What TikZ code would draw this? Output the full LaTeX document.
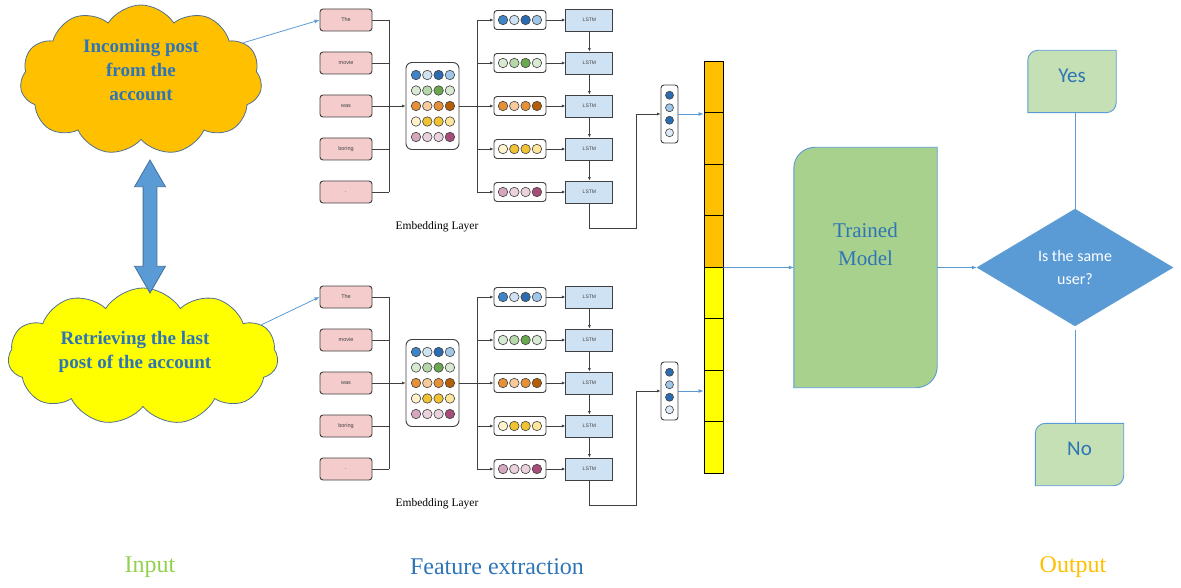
\documentclass[tikz,border=0pt]{standalone}
\usepackage{fontspec}
\setmainfont{Liberation Serif}
\setsansfont{Liberation Sans}
\newfontfamily\calib{Carlito}
\usepackage{xcolor}
\usepackage{tikz}
\usetikzlibrary{arrows.meta, positioning, shapes.geometric, shapes.symbols, shapes.arrows, backgrounds, calc}

\definecolor{post_orange}{HTML}{FFC000}
\definecolor{post_yellow}{HTML}{FFFF00}
\definecolor{cloud_edge}{HTML}{51708F}
\definecolor{txt_blue}{HTML}{2E75B6}
\definecolor{flow_blue}{HTML}{5B9BD5}
\definecolor{flow_dark}{HTML}{41719C}
\definecolor{model_green}{HTML}{A9D18E}
\definecolor{leaf_green}{HTML}{C5E0B4}
\definecolor{word_pink}{HTML}{F4CCCC}
\definecolor{lstm_blue}{HTML}{CFE2F3}
\definecolor{wire_grey}{HTML}{404040}
\definecolor{in_green}{HTML}{92D050}
% embedding colours, row/column
\definecolor{e11}{HTML}{3D85C6}\definecolor{e12}{HTML}{CFE2F3}\definecolor{e13}{HTML}{2B6CB0}\definecolor{e14}{HTML}{9FC5E8}
\definecolor{e21}{HTML}{D9EAD3}\definecolor{e22}{HTML}{B6D7A8}\definecolor{e23}{HTML}{6AA84F}\definecolor{e24}{HTML}{D9EAD3}
\definecolor{e31}{HTML}{E69138}\definecolor{e32}{HTML}{F9CB9C}\definecolor{e33}{HTML}{E69138}\definecolor{e34}{HTML}{B45F06}
\definecolor{e41}{HTML}{FFF2CC}\definecolor{e42}{HTML}{F1C232}\definecolor{e43}{HTML}{F1C232}\definecolor{e44}{HTML}{FFE599}
\definecolor{e51}{HTML}{D5A6BD}\definecolor{e52}{HTML}{EAD1DC}\definecolor{e53}{HTML}{EAD1DC}\definecolor{e54}{HTML}{A64D79}
\definecolor{o1}{HTML}{2B6CB0}\definecolor{o2}{HTML}{9FC5E8}\definecolor{o3}{HTML}{2B6CB0}\definecolor{o4}{HTML}{DEEAF6}

% box with two rounded corners (top left, bottom right) behind node #1
\newcommand{\leafbox}[3]{%
  \begin{pgfonlayer}{background}
  \draw[draw=flow_blue, fill=#2, line width=0.9pt]
    ([yshift=-#3]#1.north west) arc[start angle=180, end angle=90, radius=#3]
    -- (#1.north east) -- ([yshift=#3]#1.south east)
    arc[start angle=0, end angle=-90, radius=#3] -- (#1.south west) -- cycle;
  \end{pgfonlayer}}

\begin{document}
\begin{tikzpicture}[x=1pt, y=-1pt,
    postcloud/.style={cloud, cloud puffs=11, cloud puff arc=115, cloud ignores aspect,
      draw=cloud_edge, line width=0.8pt, inner sep=0pt},
    posttext/.style={align=center, text=txt_blue,
      font=\bfseries\fontsize{19}{24}\selectfont},
    swaparrow/.style={double arrow, rotate=90, fill=flow_blue, draw=flow_dark,
      line width=0.8pt, minimum height=133, inner xsep=0pt, inner ysep=6.5pt,
      double arrow head extend=8.5pt, double arrow tip angle=60},
    wordbox/.style={draw=wire_grey, fill=word_pink, rounded corners=3pt,
      line width=0.9pt, minimum width=52, minimum height=22, text=wire_grey,
      font=\sffamily\fontsize{5.5}{6}\selectfont},
    embbox/.style={draw=wire_grey, fill=white, rounded corners=6pt,
      line width=0.9pt, minimum width=53, minimum height=87},
    vecbox/.style={draw=wire_grey, fill=white, rounded corners=3pt,
      line width=0.9pt, minimum width=52, minimum height=19},
    outbox/.style={draw=wire_grey, fill=white, rounded corners=3pt,
      line width=0.9pt, minimum width=17, minimum height=58},
    lstmbox/.style={draw=wire_grey, fill=lstm_blue, line width=0.9pt,
      minimum width=47, minimum height=22, text=wire_grey,
      font=\sffamily\fontsize{5}{6}\selectfont},
    dot/.style={circle, draw=wire_grey, line width=0.6pt, minimum size=9.5, inner sep=0pt},
    odot/.style={circle, draw=wire_grey, line width=0.6pt, minimum size=8, inner sep=0pt},
    cell/.style={draw=black, line width=0.9pt, minimum width=19, minimum height=51.5, inner sep=0pt},
    line/.style={draw=wire_grey, line width=0.9pt},
    wire/.style={line, -{Latex[length=3.5pt, width=3pt]}},
    flow/.style={draw=flow_blue, line width=0.8pt, -{Latex[length=5pt, width=4pt]}},
    leaf/.style={minimum width=88, minimum height=62, text depth=12pt, text=txt_blue,
      font=\calib\fontsize{21}{22}\selectfont},
    decision/.style={diamond, aspect=1.68, fill=flow_blue, draw=flow_blue,
      minimum width=196, minimum height=117, inner sep=0pt, text=white,
      align=center, font=\calib\fontsize{16}{23}\selectfont},
    caption/.style={font=\fontsize{24}{26}\selectfont}]
  \path[use as bounding box] (0,0) rectangle (1181,588);

  % input
  \node[postcloud, fill=post_orange, minimum width=242, minimum height=150]
       (incoming) at (141,80) {};
  \node[posttext] (incomingtxt) at (141,70) {Incoming post\\from the\\account};
  \node[postcloud, fill=post_yellow, minimum width=270, minimum height=137]
       (retrieve) at (143,356.5) {};
  \node[posttext] (retrievetxt) at (135,352) {Retrieving the last\\post of the account};
  \node[swaparrow] (swap) at (150,226.5) {};

  % concatenated vector
  \foreach \k in {1,...,4}
    \node[cell, fill=post_orange] (cat\k) at (713.5,{61+51.5*(\k-0.5)}) {};
  \foreach \k in {5,...,8}
    \node[cell, fill=post_yellow] (cat\k) at (713.5,{61+51.5*(\k-0.5)}) {};

  % two embedding + LSTM branches
  \foreach \blk/\dy in {a/0, b/277}{
    \foreach \w [count=\i] in {The,movie,was,boring,.}{
      \node[wordbox] (\blk w\i) at (346,{20+43*(\i-1)+\dy}) {\w};
      \node[vecbox] (\blk v\i) at (520,{20+43*(\i-1)+\dy}) {};
      \node[lstmbox, right=19pt of \blk v\i] (\blk l\i) {LSTM};
      \draw[wire] (\blk v\i) -- (\blk l\i);
    }
    \node[embbox] (\blk mat) at (432.5,{106+\dy}) {};
    \foreach \r in {1,...,5}
      \foreach \c in {1,...,4}{
        \node[dot, fill=e\r\c] (\blk m\r\c) at ({416+11.3*(\c-1)},{75+15.5*(\r-1)+\dy}) {};
        \node[dot, fill=e\r\c] (\blk d\r\c) at ({503+11.3*(\c-1)},{20+43*(\r-1)+\dy}) {};
      }
    \coordinate (\blk busl) at (389,{106+\dy});
    \coordinate (\blk busr) at (477,{106+\dy});
    \foreach \i in {1,...,5}{
      \draw[line] (\blk w\i.east) -- (\blk w\i.east -| \blk busl);
      \draw[wire] (\blk v\i.west -| \blk busr) -- (\blk v\i.west);
    }
    \draw[line] (\blk w1.east -| \blk busl) -- (\blk w5.east -| \blk busl);
    \draw[line] (\blk v1.west -| \blk busr) -- (\blk v5.west -| \blk busr);
    \draw[wire] (\blk w3.east) -- (\blk mat.west);
    \draw[line] (\blk mat.east) -- (\blk busr);
    \foreach \i [evaluate=\i as \j using int(\i+1)] in {1,...,4}
      \draw[wire] (\blk l\i) -- (\blk l\j);
    \node[outbox] (\blk out) at (669.5,{114+\dy}) {};
    \foreach \c in {1,...,4}
      \node[odot, fill=o\c] (\blk o\c) at (669.5,{114+12.5*(\c-2.5)+\dy}) {};
    \coordinate (\blk turn) at (636,{228+\dy});
    \draw[wire] (\blk l5.south) |- (\blk turn) |- (\blk out.west);
    \draw[flow] (\blk out.east) -- (\blk out.east -| cat1.west);
    \node[font=\fontsize{11.5}{12}\selectfont] (\blk lab) at (437,{227+\dy}) {Embedding Layer};
  }
  \draw[flow] (incoming.20) -- (aw1.west);
  \draw[flow] (retrieve.15) -- (bw1.west);

  % model and output
  \node[minimum width=143, minimum height=240] (model) at (865.5,267.5) {};
  \leafbox{model}{model_green}{21pt}
  \node[align=center, text=txt_blue, font=\fontsize{21}{28}\selectfont]
       (modeltxt) at (865.5,244) {Trained\\Model};
  \node[decision] (dec) at (1075,267.5) {Is the same\\user?};
  \node[leaf] (yes) at (1072,81.5) {Yes};
  \leafbox{yes}{leaf_green}{10pt}
  \node[leaf] (no) at (1079.5,454.5) {No};
  \leafbox{no}{leaf_green}{10pt}
  \draw[flow] (cat4.south east) -- (model.west);
  \draw[flow] (model.east) -- (dec.west);
  \draw[draw=flow_blue, line width=0.8pt] (dec.north |- yes.south) -- (dec.north);
  \draw[draw=flow_blue, line width=0.8pt] ([yshift=-4pt]dec.south) -- (dec.south |- no.north);

  % stage captions
  \node[caption, text=in_green] (capin) at (150,567) {Input};
  \node[caption, text=txt_blue] (capfe) at (497,567) {Feature extraction};
  \node[caption, text=post_orange] (capout) at (1073,567) {Output};
\end{tikzpicture}
\end{document}
